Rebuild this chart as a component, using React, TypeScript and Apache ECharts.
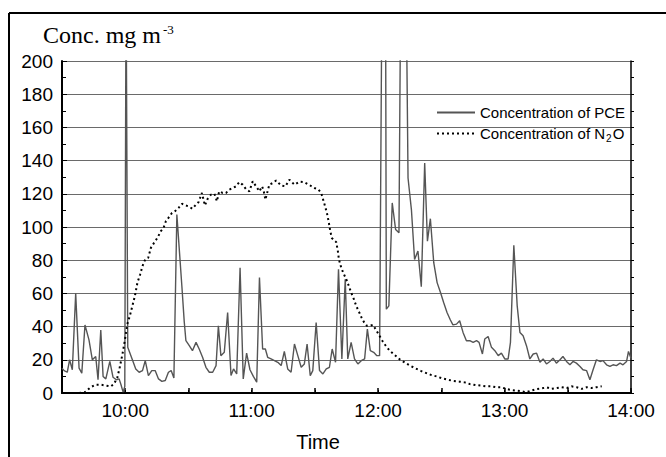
import React, { useEffect, useRef } from "react";
import * as echarts from "echarts";

// Time in minutes since midnight
const pceTime = [
  570.0, 571.0, 572.5, 573.6, 574.9, 576.5, 578.1, 579.4, 580.9, 582.8, 584.4, 586.0, 587.1, 588.4, 589.5, 590.8,
  592.7, 594.2, 595.8, 597.1, 598.0, 599.0, 599.8, 600.4, 601.2, 603.4, 605.0, 606.6, 608.2, 609.5, 611.0, 612.6,
  614.2, 615.8, 617.4, 619.0, 620.5, 621.8, 623.1, 624.5, 626.9, 628.0, 628.8, 630.4, 631.9, 633.6, 635.1, 636.7,
  638.3, 639.9, 641.5, 643.1, 644.2, 645.4, 647.0, 648.6, 650.2, 651.4, 652.9, 654.5, 656.0, 657.6, 659.2, 660.8,
  662.4, 663.7, 665.2, 666.5, 667.6, 669.2, 670.8, 672.4, 674.0, 675.5, 677.1, 678.7, 680.3, 681.9, 683.5, 685.0,
  686.3, 687.8, 689.0, 690.6, 692.2, 693.8, 695.4, 696.9, 698.2, 699.8, 701.2, 702.8, 704.4, 705.6, 707.2, 708.8,
  710.4, 712.0, 713.6, 714.9, 716.3, 717.9, 719.4, 720.7, 721.9, 723.5, 723.9, 725.1, 726.7, 728.3, 729.9, 730.8,
  733.2, 734.2, 735.8, 737.3, 738.9, 740.5, 742.1, 743.4, 744.8, 746.4, 748.0, 749.6, 751.1, 752.7, 754.3, 755.5,
  757.2, 758.7, 760.3, 761.9, 763.5, 765.1, 766.7, 767.9, 769.5, 770.6, 772.2, 773.8, 775.4, 777.0, 778.5, 780.1,
  781.7, 782.8, 784.4, 786.0, 787.3, 788.8, 790.4, 792.0, 793.6, 795.2, 796.8, 798.3, 799.9, 801.5, 803.0, 804.6,
  806.3, 807.7, 809.4, 811.0, 812.5, 814.1, 815.8, 817.2, 818.9, 820.5, 822.0, 823.6, 825.3, 826.7, 828.4, 830.0,
  831.5, 833.1, 834.8, 836.2, 837.9, 838.8, 840.0,
];
const pceValue = [
  15, 13.5, 12.5, 20, 14, 60, 15, 12, 41, 32, 20, 22, 8, 38, 10, 8.5,
  19, 9.5, 8, 8.5, 5, 0.5, 4, 250, 27.5, 20, 14.5, 12.5, 13.5, 19.5, 10.5, 13.5,
  13.5, 8.5, 7, 7.5, 12.5, 13.5, 9, 107.5, 64, 43, 31.5, 28.5, 25.5, 30.5, 26.5, 21.5,
  15.5, 12.5, 12.5, 16.5, 40.5, 22.5, 24.5, 48.5, 10.5, 14.5, 11.5, 75.5, 8.5, 24, 14, 10,
  6.5, 69.5, 26.5, 26.5, 21.5, 20.5, 19.5, 18.5, 16.5, 25, 14.5, 12.5, 29.5, 22.5, 15.5, 17.5,
  29.5, 10.5, 13.5, 42.5, 13.5, 11.5, 14.5, 15.5, 26.5, 18.5, 74.5, 20.5, 68.5, 20.5, 30.5, 20.5,
  17.5, 19.5, 20.5, 38.5, 25.5, 24.5, 22.5, 22.5, 260, 260, 50.5, 52.5, 114.5, 98.5, 96.5, 260,
  260, 129.5, 110.5, 80.5, 85.5, 64, 138.5, 91.5, 105, 78.5, 66.5, 60.5, 54.5, 48.5, 44, 41,
  41.5, 43.5, 36.5, 31.5, 31.5, 30.5, 31.5, 30.5, 23.5, 32.5, 34, 27.5, 25.5, 22.5, 24, 20.5,
  20.5, 30.5, 89, 52.5, 36.5, 34.5, 28.5, 20.5, 23.5, 24, 18.5, 20.5, 17.5, 19, 21, 18,
  20, 22, 19, 17, 19, 18, 16, 14, 13.5, 8, 14, 20, 19, 19.5, 17, 16,
  17, 16.5, 18, 17, 19, 25, 21,
];

const n2oTime = [
  571.0, 574.3, 578.1, 580.9, 583.6, 586.0, 588.4, 590.8, 593.2, 594.7, 596.3, 597.4, 598.7, 599.8, 601.0, 602.2,
  603.4, 604.6, 605.8, 607.1, 608.2, 609.5, 610.9, 612.2, 613.7, 615.3, 616.9, 618.2, 619.3, 620.5, 622.2, 623.6,
  625.3, 626.9, 628.5, 630.0, 631.9, 633.6, 634.8, 636.4, 637.8, 639.1, 640.7, 642.3, 643.5, 644.6, 646.2, 647.8,
  649.4, 651.0, 652.6, 654.1, 655.7, 657.2, 658.9, 660.5, 662.1, 663.7, 664.9, 665.6, 666.5, 668.4, 670.0, 671.6,
  674.0, 676.0, 677.9, 680.3, 682.7, 685.0, 687.8, 689.8, 691.7, 693.0, 694.6, 695.7, 696.5, 697.3, 698.0, 699.0,
  700.1, 700.9, 701.4, 702.5, 703.6, 704.9, 706.1, 707.2, 708.5, 709.6, 710.9, 712.1, 713.4, 714.7, 716.0, 717.5,
  718.8, 720.4, 722.0, 723.6, 725.5, 727.8, 730.5, 733.1, 735.3, 737.8, 740.5, 742.9, 745.3, 747.7, 750.5, 753.2,
  755.9, 758.7, 761.1, 763.5, 766.3, 769.0, 771.4, 773.8, 776.2, 778.5, 780.9, 783.3, 785.7, 788.1, 790.4, 792.8,
  795.2, 797.6, 800.0, 802.3, 804.7, 807.1, 809.5, 811.8, 814.2, 816.6, 819.0, 821.3, 823.7, 826.1,
];
const n2oValue = [
  0, 0, 0, 0.5, 3.5, 5, 5, 4.5, 4, 5.5, 9.5, 15.5, 23.5, 31.5, 41.5, 46.5,
  52.5, 58.5, 66.5, 71.5, 76.5, 80.5, 81.5, 87.5, 90.5, 93.5, 97.5, 99.5, 103.5, 105.5, 108.5, 109.5,
  111.5, 114, 113, 112.5, 111, 113.5, 115, 120.5, 113, 117, 119.5, 120, 115.5, 121.5, 120.5, 120.5,
  122.5, 123.5, 124.5, 127, 125.5, 123, 121.5, 127.5, 124.5, 121.5, 124.5, 122.5, 116.5, 125.5, 126.5, 128,
  125, 124.5, 128.5, 125.5, 127.3, 127, 125, 123.5, 122.5, 120.5, 113.5, 108.5, 103.5, 97.5, 93.5, 92,
  91, 85.5, 80.5, 75.5, 72, 68.5, 64.5, 60.5, 56.5, 52.5, 49, 45.5, 42.5, 40.5, 40.5, 41,
  38.5, 35, 31.5, 28.5, 25.5, 23, 20, 18, 16.4, 14.8, 13.2, 12, 10.8, 10, 8.8, 8,
  7.2, 6.8, 6.4, 5.4, 4.8, 4.4, 4, 4, 3.4, 3.4, 2.4, 1.8, 1.4, 1, 0.5, 1.5,
  2.4, 2.8, 3.4, 2.5, 3, 3.5, 3, 4, 3.5, 2.5, 3.5, 3, 3.5, 4,
];

const yTicks = [0, 20, 40, 60, 80, 100, 120, 140, 160, 180, 200];
const hourLabels = ["10:00", "11:00", "12:00", "13:00", "14:00"];
const seriesNames = ["Concentration of PCE", "Concentration of N2O"];

const SANS = "Liberation Sans, Arial, sans-serif";
const SERIF = "Liberation Serif, Times New Roman, serif";

export default function App() {
  const ref = useRef<HTMLDivElement>(null);
  useEffect(() => {
    if (!ref.current) return;
    const chart = echarts.init(ref.current, undefined, { renderer: "svg" });
    const xMin = 570;
    const xMax = 840;
    const yMin = yTicks[0];
    const yMax = yTicks[yTicks.length - 1];
    const fmtX = (v: number) => {
      if (v % 60 !== 0) return "";
      const lbl = `${v / 60}:00`;
      return hourLabels.includes(lbl) ? lbl : "";
    };
    chart.setOption({
      animation: false,
      backgroundColor: "#fff",
      grid: { left: 62, right: 35, top: 61, bottom: 64, containLabel: false },
      xAxis: [
        {
          type: "value",
          min: xMin,
          max: xMax,
          interval: 30,
          position: "bottom",
          axisLine: { show: true, lineStyle: { color: "#000", width: 2 } },
          axisTick: { show: true, inside: true, length: 5, lineStyle: { color: "#000", width: 1.5 } },
          axisLabel: { formatter: fmtX, color: "#000", fontFamily: SANS, fontSize: 19, margin: 8 },
          splitLine: { show: false },
        },
        {
          type: "value",
          min: xMin,
          max: xMax,
          interval: 30,
          position: "top",
          axisLine: { show: true, lineStyle: { color: "#000", width: 1.5 } },
          axisTick: { show: true, inside: false, length: 3, lineStyle: { color: "#000" } },
          axisLabel: { show: false },
          splitLine: { show: false },
        },
      ],
      yAxis: [
        {
          type: "value",
          min: yMin,
          max: yMax,
          interval: 20,
          position: "left",
          axisLine: { show: true, lineStyle: { color: "#000", width: 2 } },
          axisTick: { show: true, inside: true, length: 5, lineStyle: { color: "#000" } },
          minorTick: { show: true, splitNumber: 2, length: 4, lineStyle: { color: "#000" } },
          axisLabel: { color: "#000", fontFamily: SANS, fontSize: 19, margin: 9 },
          splitLine: { show: true, lineStyle: { color: "#6a6a6a", width: 1 } },
        },
        {
          type: "value",
          min: yMin,
          max: yMax,
          interval: 20,
          position: "right",
          axisLine: { show: true, lineStyle: { color: "#000", width: 1.5 } },
          axisTick: { show: true, inside: false, length: 3, lineStyle: { color: "#000" } },
          minorTick: { show: true, splitNumber: 2, length: 3, lineStyle: { color: "#000" } },
          axisLabel: { show: false },
          splitLine: { show: false },
        },
      ],
      legend: {
        orient: "vertical",
        left: 436,
        top: 105,
        padding: 0,
        itemWidth: 38,
        itemHeight: 14,
        itemGap: 6,
        data: seriesNames,
        itemStyle: { opacity: 0 },
        formatter: (name: string) =>
          name === seriesNames[1] ? "Concentration of N{sub|2}O" : name,
        textStyle: {
          color: "#000",
          fontFamily: SANS,
          fontSize: 15,
          rich: {
            sub: { color: "#000", fontFamily: SANS, fontSize: 10, padding: [10, 1, 0, 1] },
          },
        },
      },
      series: [
        {
          name: seriesNames[0],
          type: "line",
          xAxisIndex: 0,
          yAxisIndex: 0,
          data: pceTime.map((t, i) => [t, pceValue[i]]),
          symbol: "none",
          showSymbol: false,
          clip: true,
          lineStyle: { color: "#555", width: 1.4 },
          itemStyle: { color: "#555" },
          z: 3,
        },
        {
          name: seriesNames[1],
          type: "line",
          xAxisIndex: 0,
          yAxisIndex: 0,
          data: n2oTime.map((t, i) => [t, n2oValue[i]]),
          symbol: "none",
          showSymbol: false,
          clip: true,
          lineStyle: { color: "#000", width: 2, type: [2, 3] },
          itemStyle: { color: "#000" },
          z: 4,
        },
      ],
      graphic: [
        {
          type: "line",
          shape: { x1: 9, y1: 13, x2: 666, y2: 13 },
          style: { stroke: "#000", lineWidth: 2 },
        },
        {
          type: "line",
          shape: { x1: 9, y1: 13, x2: 9, y2: 457 },
          style: { stroke: "#000", lineWidth: 2 },
        },
        {
          type: "text",
          x: 43,
          y: 23,
          style: {
            text: "{a|Conc. mg m}{b|-3}",
            align: "left",
            verticalAlign: "top",
            rich: {
              a: { fontFamily: SERIF, fontSize: 24, fill: "#000" },
              b: { fontFamily: SERIF, fontSize: 13, fill: "#000", verticalAlign: "top", padding: [0, 0, 0, 2] },
            },
          },
        },
        {
          type: "text",
          x: 318,
          y: 442,
          style: {
            text: "Time",
            align: "center",
            verticalAlign: "middle",
            fontFamily: SANS,
            fontSize: 20,
            fill: "#000",
          },
        },
      ],
    });
    return () => chart.dispose();
  }, []);
  return (
    <div
      ref={ref}
      style={{ position: "absolute", left: 0, top: 0, width: 666, height: 457, background: "#fff" }}
    />
  );
}
